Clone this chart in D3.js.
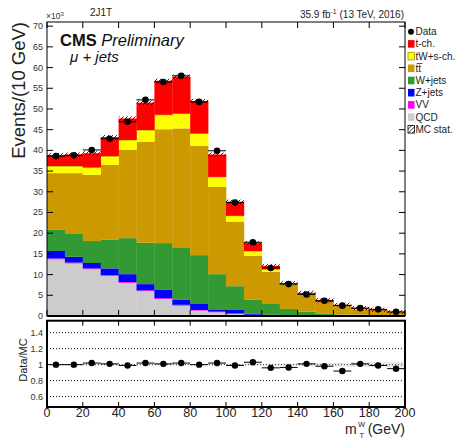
<!DOCTYPE html>
<html>
<head>
<meta charset="utf-8">
<script src="https://cdn.jsdelivr.net/npm/d3@7"></script>
<style>
  body { margin: 0; background: white; }
  text { font-family: 'Liberation Sans', Arial, sans-serif; }
</style>
</head>
<body>
<div id="chart"></div>
<script>
// bins of 10 GeV in mT(W), values in thousands of events
var binEdges = d3.range(0, 210, 10);
var qcd   = [13.7, 12.7, 11.3, 9.7, 8.0, 6.0, 4.1, 2.5, 1.3, 0.9, 0.5, 0.2, 0.1, 0.08, 0.05, 0.04, 0.02, 0.02, 0.01, 0.01];
var vv    = [0.2, 0.2, 0.2, 0.2, 0.2, 0.2, 0.2, 0.2, 0.15, 0.15, 0.1, 0.1, 0.08, 0.05, 0.05, 0.04, 0.03, 0.03, 0.02, 0.02];
var zjets = [1.8, 1.4, 1.3, 1.6, 1.9, 1.5, 2.0, 1.3, 1.45, 0.55, 1.0, 0.2, 0.12, 0.07, 0.05, 0.03, 0.02, 0.02, 0.02, 0.01];
var wjets = [5.1, 5.5, 5.3, 6.9, 8.7, 10.0, 11.3, 12.6, 11.8, 8.5, 5.6, 3.4, 2.6, 1.5, 0.9, 0.4, 0.25, 0.25, 0.15, 0.15];
var ttbar = [13.7, 14.7, 16.0, 18.1, 21.3, 24.4, 27.5, 28.7, 26.4, 21.1, 15.6, 10.6, 7.8, 5.8, 4.1, 2.7, 2.0, 1.3, 1.1, 0.6];
var twsch = [1.7, 1.7, 1.8, 2.1, 2.4, 2.8, 3.5, 3.6, 3.0, 2.4, 1.4, 1.2, 0.6, 0.2, 0.2, 0.1, 0.1, 0.1, 0.05, 0.05];
var tch   = [2.7, 2.8, 3.4, 4.6, 5.2, 6.6, 8.2, 8.9, 7.8, 5.4, 3.4, 1.9, 0.8, 0.25, 0.25, 0.55, 0.3, 0.2, 0.15, 0.1];
var dataV = [38.6, 38.8, 40.1, 42.8, 46.9, 52.2, 56.5, 58.0, 51.7, 39.9, 27.4, 17.8, 11.6, 7.7, 5.2, 3.7, 2.5, 1.9, 1.6, 1.0];
var ratio = [1.0, 1.0, 1.02, 1.01, 0.99, 1.02, 1.01, 1.02, 1.0, 1.02, 0.99, 1.03, 0.96, 0.965, 1.01, 0.98, 0.92, 1.01, 0.99, 0.95];
var ratioErr = [0.006, 0.006, 0.006, 0.006, 0.006, 0.006, 0.006, 0.006, 0.006, 0.006, 0.008, 0.01, 0.012, 0.015, 0.018, 0.02, 0.024, 0.028, 0.03, 0.035];

var yTicks = d3.range(0, 75, 5);
var ratioTicks = [0.6, 0.8, 1, 1.2, 1.4];
var xTicks = d3.range(0, 220, 20);

var processes = [
  { key: 'qcd', label: 'QCD', color: '#cccccc', values: qcd },
  { key: 'vv', label: 'VV', color: '#ff00ff', values: vv },
  { key: 'zjets', label: 'Z+jets', color: '#0000ff', values: zjets },
  { key: 'wjets', label: 'W+jets', color: '#339933', values: wjets },
  { key: 'ttbar', label: 'tt\u0305', color: '#cc9900', values: ttbar },
  { key: 'twsch', label: 'tW+s-ch.', color: '#ffff00', values: twsch, edge: '#999900' },
  { key: 'tch', label: 't-ch.', color: '#ff0000', values: tch }
];

var W = 459, H = 439;
var x = d3.scaleLinear().domain([0, 200]).range([47, 405]);
var y = d3.scaleLinear().domain([0, 71]).range([316, 22]);
var yr = d3.scaleLinear().domain([0.47, 1.55]).range([407, 320.7]);

var svg = d3.select('#chart').append('svg')
  .attr('width', W)
  .attr('height', H)
  .attr('style', 'background-color: white');

var defs = svg.append('defs');
defs.append('pattern')
  .attr('id', 'hatch')
  .attr('patternUnits', 'userSpaceOnUse')
  .attr('width', 4).attr('height', 4)
  .append('path')
  .attr('d', 'M-1,1 L1,-1 M0,4 L4,0 M3,5 L5,3')
  .attr('stroke', 'black')
  .attr('stroke-width', 0.8);

// table for the stack
var rows = binEdges.slice(0, 20).map(function(lo, i) {
  var r = { lo: lo, hi: lo + 10 };
  processes.forEach(function(p) { r[p.key] = p.values[i]; });
  return r;
});
var stack = d3.stack().keys(processes.map(function(p) { return p.key; }));
var layers = stack(rows);

var gStack = svg.append('g').attr('class', 'stack');
layers.forEach(function(layer, li) {
  var p = processes[li];
  gStack.append('g')
    .selectAll('rect')
    .data(layer)
    .enter().append('rect')
    .attr('x', function(d) { return x(d.data.lo); })
    .attr('width', function(d) { return x(d.data.hi) - x(d.data.lo) + 0.3; })
    .attr('y', function(d) { return y(d[1]); })
    .attr('height', function(d) { return Math.max(0, y(d[0]) - y(d[1])); })
    .attr('fill', p.color);
  if (p.edge) {
    gStack.append('g')
      .selectAll('line')
      .data(layer)
      .enter().append('line')
      .attr('x1', function(d) { return x(d.data.lo); })
      .attr('x2', function(d) { return x(d.data.hi); })
      .attr('y1', function(d) { return y(d[1]); })
      .attr('y2', function(d) { return y(d[1]); })
      .attr('stroke', p.edge)
      .attr('stroke-width', 0.8);
  }
});

// MC stat hatched band on top of the stack
var mcTotal = rows.map(function(r, i) {
  return d3.sum(processes, function(p) { return p.values[i]; });
});
svg.append('g').selectAll('rect')
  .data(mcTotal)
  .enter().append('rect')
  .attr('x', function(d, i) { return x(binEdges[i]); })
  .attr('width', function(d, i) { return x(binEdges[i + 1]) - x(binEdges[i]); })
  .attr('y', function(d) { return y(d + 0.5); })
  .attr('height', function(d) { return y(d - 0.5) - y(d + 0.5); })
  .attr('fill', 'url(#hatch)');

// data points
var gData = svg.append('g').attr('class', 'data');
gData.selectAll('line.h')
  .data(dataV)
  .enter().append('line')
  .attr('class', 'h')
  .attr('x1', function(d, i) { return x(binEdges[i]); })
  .attr('x2', function(d, i) { return x(binEdges[i + 1]); })
  .attr('y1', function(d) { return y(d); })
  .attr('y2', function(d) { return y(d); })
  .attr('stroke', 'black').attr('stroke-width', 1);
gData.selectAll('line.v')
  .data(dataV)
  .enter().append('line')
  .attr('class', 'v')
  .attr('x1', function(d, i) { return x(binEdges[i] + 5); })
  .attr('x2', function(d, i) { return x(binEdges[i] + 5); })
  .attr('y1', function(d) { return y(d + Math.sqrt(d * 1000) / 1000); })
  .attr('y2', function(d) { return y(d - Math.sqrt(d * 1000) / 1000); })
  .attr('stroke', 'black').attr('stroke-width', 1);
gData.selectAll('circle')
  .data(dataV)
  .enter().append('circle')
  .attr('cx', function(d, i) { return x(binEdges[i] + 5); })
  .attr('cy', function(d) { return y(d); })
  .attr('r', 3.3)
  .attr('fill', 'black');

// main frame and ticks
svg.append('rect')
  .attr('x', x(0)).attr('y', y(71))
  .attr('width', x(200) - x(0)).attr('height', y(0) - y(71))
  .attr('fill', 'none').attr('stroke', 'black').attr('stroke-width', 1);
svg.append('line')
  .attr('x1', x(0)).attr('x2', x(200)).attr('y1', y(0)).attr('y2', y(0))
  .attr('stroke', 'black').attr('stroke-width', 1.8);

var gTicks = svg.append('g').attr('stroke', 'black').attr('stroke-width', 1);
yTicks.forEach(function(t) {
  gTicks.append('line').attr('x1', x(0)).attr('x2', x(0) + 6).attr('y1', y(t)).attr('y2', y(t));
  gTicks.append('line').attr('x1', x(200)).attr('x2', x(200) - 6).attr('y1', y(t)).attr('y2', y(t));
});
xTicks.forEach(function(t) {
  gTicks.append('line').attr('x1', x(t)).attr('x2', x(t)).attr('y1', y(71)).attr('y2', y(71) + 6);
  gTicks.append('line').attr('x1', x(t)).attr('x2', x(t)).attr('y1', y(0)).attr('y2', y(0) - 6);
});

svg.append('g').selectAll('text')
  .data(yTicks)
  .enter().append('text')
  .attr('x', 43)
  .attr('y', function(d) { return y(d) + 3; })
  .attr('text-anchor', 'end')
  .attr('font-size', 9)
  .attr('fill', '#333')
  .text(function(d) { return d; });

// x10^3
var exp = svg.append('text').attr('x', 46).attr('y', 19).attr('font-size', 8.5).attr('fill', '#333');
exp.append('tspan').text('\u00d710');
exp.append('tspan').attr('dy', -3).attr('font-size', 6).text('3');

// ratio panel
var gRatio = svg.append('g').attr('class', 'ratio');
ratioTicks.forEach(function(t) {
  gRatio.append('line')
    .attr('x1', x(0)).attr('x2', x(200))
    .attr('y1', yr(t)).attr('y2', yr(t))
    .attr('stroke', 'black').attr('stroke-width', 1)
    .attr('stroke-dasharray', '1,2');
});
gRatio.append('g').selectAll('rect')
  .data(ratioErr)
  .enter().append('rect')
  .attr('x', function(d, i) { return x(binEdges[i]); })
  .attr('width', function(d, i) { return x(binEdges[i + 1]) - x(binEdges[i]); })
  .attr('y', function(d) { return yr(1 + d); })
  .attr('height', function(d) { return yr(1 - d) - yr(1 + d); })
  .attr('fill', '#bbb').attr('opacity', 0.35);
gRatio.selectAll('line.h')
  .data(ratio)
  .enter().append('line')
  .attr('class', 'h')
  .attr('x1', function(d, i) { return x(binEdges[i]); })
  .attr('x2', function(d, i) { return x(binEdges[i + 1]); })
  .attr('y1', function(d) { return yr(d); })
  .attr('y2', function(d) { return yr(d); })
  .attr('stroke', 'black').attr('stroke-width', 1);
gRatio.selectAll('line.v')
  .data(ratio)
  .enter().append('line')
  .attr('class', 'v')
  .attr('x1', function(d, i) { return x(binEdges[i] + 5); })
  .attr('x2', function(d, i) { return x(binEdges[i] + 5); })
  .attr('y1', function(d, i) { return yr(d + ratioErr[i]); })
  .attr('y2', function(d, i) { return yr(d - ratioErr[i]); })
  .attr('stroke', 'black').attr('stroke-width', 1);
gRatio.selectAll('circle')
  .data(ratio)
  .enter().append('circle')
  .attr('cx', function(d, i) { return x(binEdges[i] + 5); })
  .attr('cy', function(d) { return yr(d); })
  .attr('r', 3.2)
  .attr('fill', 'black');

svg.append('rect')
  .attr('x', x(0)).attr('y', yr(1.55))
  .attr('width', x(200) - x(0)).attr('height', yr(0.47) - yr(1.55))
  .attr('fill', 'none').attr('stroke', 'black').attr('stroke-width', 2);
xTicks.forEach(function(t) {
  gTicks.append('line').attr('x1', x(t)).attr('x2', x(t)).attr('y1', yr(1.55)).attr('y2', yr(1.55) + 5);
  gTicks.append('line').attr('x1', x(t)).attr('x2', x(t)).attr('y1', yr(0.47)).attr('y2', yr(0.47) - 5);
});

gRatio.append('g').selectAll('text')
  .data(ratioTicks)
  .enter().append('text')
  .attr('x', 43)
  .attr('y', function(d) { return yr(d) + 3; })
  .attr('text-anchor', 'end')
  .attr('font-size', 9)
  .attr('fill', '#333')
  .text(function(d) { return d; });

svg.append('g').selectAll('text')
  .data(xTicks)
  .enter().append('text')
  .attr('x', function(d) { return x(d); })
  .attr('y', 417)
  .attr('text-anchor', 'middle')
  .attr('font-size', 12.5)
  .attr('fill', '#222')
  .text(function(d) { return d; });

// axis titles
svg.append('text')
  .attr('transform', 'translate(25,22) rotate(-90)')
  .attr('text-anchor', 'end')
  .attr('font-size', 18.5)
  .attr('fill', '#222')
  .text('Events/(10 GeV)');
svg.append('text')
  .attr('transform', 'translate(27,360) rotate(-90)')
  .attr('text-anchor', 'middle')
  .attr('font-size', 11)
  .attr('fill', '#222')
  .text('Data/MC');

svg.append('text').attr('x', 345).attr('y', 434).attr('font-size', 14).attr('fill', '#222').text('m');
svg.append('text').attr('x', 358).attr('y', 427).attr('font-size', 7.5).attr('fill', '#222').text('W');
svg.append('text').attr('x', 359.5).attr('y', 438).attr('font-size', 7.5).attr('fill', '#222').text('T');
svg.append('text').attr('x', 405).attr('y', 434).attr('text-anchor', 'end').attr('font-size', 14).attr('fill', '#222').text('(GeV)');

// header texts
svg.append('text').attr('x', 90).attr('y', 16).attr('font-size', 10).attr('fill', '#222').text('2J1T');
var lumi = svg.append('text').attr('x', 404).attr('y', 18).attr('text-anchor', 'end').attr('font-size', 10).attr('fill', '#222');
lumi.append('tspan').text('35.9 fb');
lumi.append('tspan').attr('dy', -4).attr('font-size', 7).text('-1');
lumi.append('tspan').attr('dy', 4).text(' (13 TeV, 2016)');

var cms = svg.append('text').attr('x', 60).attr('y', 46).attr('font-size', 16.5).attr('fill', '#111');
cms.append('tspan').attr('font-weight', 'bold').text('CMS');
cms.append('tspan').attr('font-style', 'italic').text(' Preliminary');
svg.append('text').attr('x', 70).attr('y', 62).attr('font-size', 15).attr('font-style', 'italic').attr('fill', '#111')
  .text('\u03bc + jets');

// legend
var legendItems = [{ label: 'Data', type: 'data' }]
  .concat(processes.slice().reverse().map(function(p) { return { label: p.label, type: 'box', color: p.color, edge: p.edge }; }))
  .concat([{ label: 'MC stat.', type: 'hatch' }]);
var legend = svg.append('g').attr('class', 'legend');
var item = legend.selectAll('g')
  .data(legendItems)
  .enter().append('g')
  .attr('transform', function(d, i) { return 'translate(408,' + (31.7 + i * 12.2) + ')'; });
item.each(function(d) {
  var g = d3.select(this);
  if (d.type === 'data') {
    g.append('circle').attr('cx', 3).attr('cy', 0).attr('r', 3).attr('fill', 'black');
  } else if (d.type === 'box') {
    g.append('rect').attr('x', 0).attr('y', -3.8).attr('width', 6.5).attr('height', 7.6)
      .attr('fill', d.color).attr('stroke', d.edge || 'none').attr('stroke-width', 0.8);
  } else {
    g.append('rect').attr('x', 0).attr('y', -3.8).attr('width', 6.5).attr('height', 7.6)
      .attr('fill', 'url(#hatch)').attr('stroke', 'black').attr('stroke-width', 0.8);
  }
});
item.append('text')
  .attr('x', 7.5)
  .attr('y', 3.5)
  .attr('font-size', 10)
  .attr('fill', '#222')
  .text(function(d) { return d.label; });
</script>
</body>
</html>
